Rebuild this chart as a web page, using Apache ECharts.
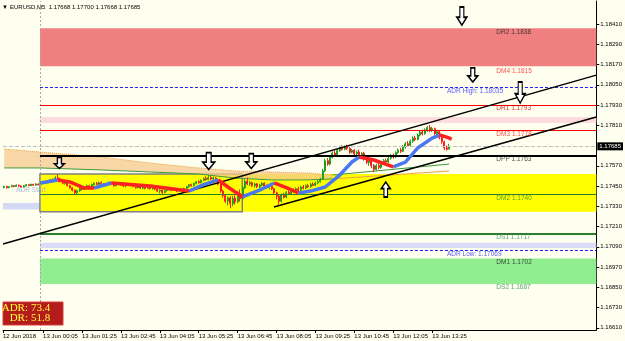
<!DOCTYPE html>
<html><head><meta charset="utf-8">
<script src="https://cdn.jsdelivr.net/npm/echarts@6/dist/echarts.min.js"></script>
<style>html,body{margin:0;padding:0;background:#FFFFF0;}#c{width:625px;height:341px;}</style>
</head><body><div id="c"></div>
<script>
const symbolName = 'EURUSD,M5';
const opens = [1.17441,1.17448,1.17440,1.17446,1.17452,1.17447,1.17455,1.17450,1.17444,1.17451,1.17458,1.17452,1.17460,1.17455,1.17462,
1.17458,1.17468,1.17475,1.17470,1.17480,1.17488,1.17483,1.17498,1.17490,1.17480,1.17466,1.17472,1.17452,1.17440,1.17425,
1.17410,1.17422,1.17436,1.17430,1.17444,1.17452,1.17446,1.17458,1.17466,1.17460,1.17470,1.17464,1.17455,1.17462,1.17470,
1.17460,1.17452,1.17460,1.17468,1.17458,1.17450,1.17456,1.17462,1.17454,1.17448,1.17440,1.17446,1.17438,1.17444,1.17436,
1.17442,1.17434,1.17440,1.17432,1.17420,1.17426,1.17412,1.17424,1.17432,1.17426,1.17434,1.17428,1.17420,1.17430,1.17424,
1.17436,1.17446,1.17458,1.17452,1.17466,1.17476,1.17470,1.17484,1.17494,1.17488,1.17500,1.17492,1.17498,1.17486,1.17462,
1.17420,1.17394,1.17360,1.17380,1.17345,1.17378,1.17356,1.17402,1.17375,1.17440,1.17478,1.17462,1.17470,1.17452,1.17462,
1.17446,1.17456,1.17466,1.17450,1.17440,1.17448,1.17434,1.17410,1.17390,1.17360,1.17398,1.17384,1.17412,1.17404,1.17424,
1.17416,1.17434,1.17426,1.17444,1.17438,1.17452,1.17446,1.17460,1.17454,1.17468,1.17476,1.17490,1.17540,1.17600,1.17580,
1.17620,1.17645,1.17630,1.17660,1.17680,1.17668,1.17682,1.17672,1.17650,1.17662,1.17640,1.17652,1.17630,1.17644,1.17610,
1.17590,1.17600,1.17570,1.17548,1.17572,1.17560,1.17585,1.17600,1.17592,1.17615,1.17630,1.17622,1.17648,1.17664,1.17656,
1.17682,1.17700,1.17690,1.17716,1.17734,1.17726,1.17752,1.17770,1.17760,1.17782,1.17796,1.17778,1.17790,1.17760,1.17772,
1.17738,1.17712,1.17676,1.17668];
const closes = [1.17448,1.17440,1.17446,1.17452,1.17447,1.17455,1.17450,1.17444,1.17451,1.17458,1.17452,1.17460,1.17455,1.17462,1.17458,
1.17468,1.17475,1.17470,1.17480,1.17488,1.17483,1.17498,1.17490,1.17480,1.17466,1.17472,1.17452,1.17440,1.17425,1.17410,
1.17422,1.17436,1.17430,1.17444,1.17452,1.17446,1.17458,1.17466,1.17460,1.17470,1.17464,1.17455,1.17462,1.17470,1.17460,
1.17452,1.17460,1.17468,1.17458,1.17450,1.17456,1.17462,1.17454,1.17448,1.17440,1.17446,1.17438,1.17444,1.17436,1.17442,
1.17434,1.17440,1.17432,1.17420,1.17426,1.17412,1.17424,1.17432,1.17426,1.17434,1.17428,1.17420,1.17430,1.17424,1.17436,
1.17446,1.17458,1.17452,1.17466,1.17476,1.17470,1.17484,1.17494,1.17488,1.17500,1.17492,1.17498,1.17486,1.17462,1.17420,
1.17394,1.17360,1.17380,1.17345,1.17378,1.17356,1.17402,1.17375,1.17440,1.17478,1.17462,1.17470,1.17452,1.17462,1.17446,
1.17456,1.17466,1.17450,1.17440,1.17448,1.17434,1.17410,1.17390,1.17360,1.17398,1.17384,1.17412,1.17404,1.17424,1.17416,
1.17434,1.17426,1.17444,1.17438,1.17452,1.17446,1.17460,1.17454,1.17468,1.17476,1.17490,1.17540,1.17600,1.17580,1.17620,
1.17645,1.17630,1.17660,1.17680,1.17668,1.17682,1.17672,1.17650,1.17662,1.17640,1.17652,1.17630,1.17644,1.17610,1.17590,
1.17600,1.17570,1.17548,1.17572,1.17560,1.17585,1.17600,1.17592,1.17615,1.17630,1.17622,1.17648,1.17664,1.17656,1.17682,
1.17700,1.17690,1.17716,1.17734,1.17726,1.17752,1.17770,1.17760,1.17782,1.17796,1.17778,1.17790,1.17760,1.17772,1.17738,
1.17712,1.17676,1.17668,1.17685];
const lows = [1.17436,1.17434,1.17437,1.17442,1.17443,1.17444,1.17446,1.17440,1.17441,1.17448,1.17449,1.17450,1.17451,1.17452,1.17453,
1.17455,1.17462,1.17464,1.17467,1.17474,1.17478,1.17480,1.17485,1.17474,1.17460,1.17458,1.17448,1.17434,1.17418,1.17397,
1.17400,1.17415,1.17424,1.17426,1.17438,1.17440,1.17442,1.17452,1.17455,1.17456,1.17458,1.17450,1.17448,1.17458,1.17454,
1.17446,1.17447,1.17455,1.17452,1.17444,1.17442,1.17450,1.17448,1.17442,1.17434,1.17436,1.17432,1.17430,1.17430,1.17432,
1.17428,1.17428,1.17426,1.17414,1.17406,1.17400,1.17406,1.17418,1.17420,1.17420,1.17422,1.17414,1.17416,1.17418,1.17420,
1.17430,1.17440,1.17446,1.17448,1.17460,1.17464,1.17466,1.17478,1.17482,1.17484,1.17486,1.17484,1.17480,1.17455,1.17410,
1.17380,1.17350,1.17335,1.17318,1.17330,1.17340,1.17348,1.17358,1.17368,1.17432,1.17455,1.17450,1.17444,1.17440,1.17438,
1.17436,1.17448,1.17442,1.17432,1.17430,1.17426,1.17400,1.17370,1.17340,1.17352,1.17376,1.17378,1.17396,1.17398,1.17408,
1.17410,1.17418,1.17420,1.17430,1.17432,1.17438,1.17440,1.17448,1.17450,1.17460,1.17470,1.17485,1.17532,1.17570,1.17572,
1.17612,1.17622,1.17626,1.17652,1.17660,1.17662,1.17664,1.17640,1.17644,1.17630,1.17632,1.17620,1.17618,1.17600,1.17580,
1.17570,1.17556,1.17532,1.17540,1.17548,1.17552,1.17576,1.17582,1.17586,1.17606,1.17612,1.17616,1.17640,1.17646,1.17650,
1.17672,1.17682,1.17684,1.17706,1.17716,1.17720,1.17744,1.17750,1.17754,1.17772,1.17768,1.17770,1.17750,1.17748,1.17726,
1.17700,1.17664,1.17660,1.17668];
const highs = [1.17452,1.17451,1.17449,1.17458,1.17456,1.17460,1.17458,1.17453,1.17455,1.17462,1.17461,1.17464,1.17463,1.17466,1.17465,
1.17472,1.17480,1.17482,1.17486,1.17492,1.17495,1.17508,1.17518,1.17500,1.17485,1.17478,1.17476,1.17458,1.17445,1.17430,
1.17428,1.17440,1.17442,1.17450,1.17458,1.17457,1.17464,1.17472,1.17474,1.17476,1.17478,1.17468,1.17466,1.17476,1.17474,
1.17465,1.17464,1.17473,1.17470,1.17462,1.17460,1.17468,1.17466,1.17458,1.17452,1.17450,1.17449,1.17448,1.17447,1.17446,
1.17445,1.17444,1.17443,1.17436,1.17430,1.17430,1.17428,1.17436,1.17438,1.17440,1.17438,1.17432,1.17434,1.17435,1.17440,
1.17450,1.17462,1.17464,1.17470,1.17480,1.17484,1.17490,1.17500,1.17508,1.17515,1.17510,1.17506,1.17503,1.17490,1.17466,
1.17428,1.17400,1.17388,1.17390,1.17392,1.17395,1.17420,1.17430,1.17452,1.17490,1.17500,1.17482,1.17476,1.17470,1.17468,
1.17464,1.17474,1.17472,1.17458,1.17454,1.17452,1.17438,1.17416,1.17398,1.17405,1.17410,1.17420,1.17424,1.17432,1.17436,
1.17442,1.17446,1.17452,1.17456,1.17460,1.17462,1.17468,1.17472,1.17476,1.17484,1.17498,1.17552,1.17612,1.17615,1.17632,
1.17655,1.17660,1.17672,1.17688,1.17692,1.17690,1.17695,1.17680,1.17670,1.17668,1.17660,1.17666,1.17650,1.17652,1.17620,
1.17612,1.17606,1.17580,1.17582,1.17590,1.17594,1.17610,1.17612,1.17622,1.17640,1.17642,1.17656,1.17672,1.17676,1.17692,
1.17710,1.17716,1.17726,1.17744,1.17748,1.17762,1.17780,1.17784,1.17792,1.17806,1.17812,1.17800,1.17796,1.17780,1.17778,
1.17744,1.17718,1.17690,1.17700];

// smoothed trend overlay (blue = rising, red = falling), key points [barIndex, price]
const trendUp = [[15,1.17468],[22,1.17486],null,[37,1.17438],[44,1.17468],null,[76,1.17420],[82,1.17458],[88,1.17486],null,
  [98,1.17385],[105,1.17426],[111,1.17468],null,[121,1.17409],[126,1.17420],[132,1.17444],[138,1.17515],[143,1.17592],[146,1.17622],null,
  [160,1.17563],[165,1.17592],[170,1.17675],[176,1.17734],[179,1.17752]];
const trendDown = [[22,1.17486],[27,1.17474],[33,1.17438],[37,1.17438],null,[44,1.17468],[60,1.17450],[76,1.17420],null,
  [88,1.17486],[92,1.17444],[98,1.17385],null,[111,1.17468],[116,1.17440],[121,1.17409],null,
  [146,1.17622],[152,1.17604],[160,1.17563],null,[179,1.17752],[182,1.17740],[184,1.17728]];

// envelope band key points
const bandIdx  = [0,15,40,60,80,95,110,125,135];
const bandLow  = [1.17557,1.17557,1.17545,1.17533,1.17521,1.17497,1.17486,1.17486,1.17492];
const bandHigh = [1.17669,1.17651,1.17622,1.17586,1.17557,1.17539,1.17533,1.17527,1.17515];
const tailGreen = [[135,1.17515],[183,1.17580]];
const tailOrange = [[135,1.17492],[183,1.17539]];

const xTickIdx = [-0.5,16,32,48,64,80,96,112,128,144,160,176];
const xTickLabels = ['12 Jun 2018','13 Jun 00:05','13 Jun 01:25','13 Jun 02:45','13 Jun 04:05','13 Jun 05:25','13 Jun 06:45','13 Jun 08:05','13 Jun 09:25','13 Jun 10:45','13 Jun 12:05','13 Jun 13:25'];
const yTicks = [1.16610,1.16730,1.16850,1.16970,1.17090,1.17210,1.17330,1.17450,1.17570,1.17810,1.17930,1.18050,1.18170,1.18290,1.18410];
const bidPrice = 1.17685;

const levelNames  = ['DR2','DM4','DR1','DM3','DPP','DM2','DS1','DM1','DS2'];
const levelValues = [1.1838,1.1815,1.1793,1.1778,1.1763,1.1740,1.1717,1.1702,1.1687];
const adrHigh = 1.18035, adrLow = 1.17069;
const adrValue = 73.4, drValue = 51.8;

const zoneSalmon = [1.18385,1.18160];
const zonePink = [1.17859,1.17823];
const zoneYellow = [1.17521,1.17298];
const zoneLavender = [1.17114,1.17083];
const zoneGreen = [1.1702,1.1687];
const zonePrevDay = [1.17349,1.17311];
const boxEndIdx = 97.9;

const trendLineA = [[-0.5,1.17106],[243.5,1.18107]];
const trendLineC = [[110.9,1.17326],[243.5,1.17859]];

const arrowIdx = [22.7,84.1,101.6,156.9,188.2,192.7,212.2];
const arrowPrice = [1.17586,1.17598,1.17598,1.17429,1.18457,1.18108,1.18004];
const arrowDir = ['down','down','down','up','down','down','down'];
</script>
<script>
const X_MIN = -0.5, X_MAX = 243.5, Y_MIN = 1.165967, Y_MAX = 1.185463;
const DAY = 14.7, LABEL_X = 202.4, ADR_LABEL_X = 182.1;
const FONT = '"Liberation Sans",Arial,sans-serif';
const FS = 6;
const arrowSizes = [[10,11],[12,17],[11,15],[9,15],[10,18],[10,14],[10,21]];
const DOWN = 'path://M3,0 L7,0 L7,9 L10,9 L5,16 L0,9 L3,9 Z';
const UP = 'path://M5,0 L10,7 L7,7 L7,16 L3,16 L3,7 L0,7 Z';

const candleData = opens.map((o,i)=>[i,o,closes[i],lows[i],highs[i]]);
const toSeg = arr => arr.map(p => p === null ? [null,null] : p);

function hLine(v, color, width, type){
  return [{coord:[DAY, v], lineStyle:{color, width, type: type||'solid'}},{coord:[X_MAX, v]}];
}
function zone(z, color, x0){
  return [{coord:[x0===undefined?DAY:x0, z[0]], itemStyle:{color}},{coord:[X_MAX, z[1]]}];
}
const levelColors = ['#202020','#FF2020','#C00000','#FF2020','#202020','#2E8B2E','#2E8B57','#202020','#2E8B57'];
const labelData = levelNames.map((n,i)=>({value:[LABEL_X, levelValues[i]], label:{formatter: n+' '+levelValues[i].toFixed(4), color: levelColors[i]}}));
labelData.push({value:[ADR_LABEL_X, adrHigh], label:{formatter:'ADR High: '+adrHigh.toFixed(5), color:'#3333FF'}});
labelData.push({value:[ADR_LABEL_X, adrLow], label:{formatter:'ADR Low: '+adrLow.toFixed(5), color:'#3333FF'}});

const last = opens.length-1;
const header = symbolName+'  '+opens[last].toFixed(5)+' '+highs[last].toFixed(5)+' '+lows[last].toFixed(5)+' '+closes[last].toFixed(5);

const bandData = bandIdx.map((x,i)=>[x,bandLow[i],bandHigh[i]]);

const chart = echarts.init(document.getElementById('c'), null, {renderer:'canvas'});
chart.setOption({
  animation:false,
  backgroundColor:'#FFFFF0',
  grid:{left:0,right:25,top:1,bottom:11},
  xAxis:{type:'value',min:X_MIN,max:X_MAX,splitLine:{show:false},
    axisLine:{show:true,onZero:false,lineStyle:{color:'#000',width:1}},
    axisTick:{show:true,length:3,customValues:xTickIdx,lineStyle:{color:'#000'}},
    axisLabel:{customValues:xTickIdx,align:'left',margin:3,fontSize:FS,fontFamily:FONT,color:'#000',hideOverlap:false,
      formatter:v=>{const k=xTickIdx.indexOf(v);return k>=0?xTickLabels[k]:'';}}},
  yAxis:{type:'value',position:'right',min:Y_MIN,max:Y_MAX,scale:true,splitLine:{show:false},
    axisLine:{show:true,onZero:false,lineStyle:{color:'#000',width:1}},
    axisTick:{show:true,length:3,customValues:yTicks,lineStyle:{color:'#000'}},
    axisLabel:{customValues:yTicks,margin:4,fontSize:FS,fontFamily:FONT,color:'#000',formatter:v=>v.toFixed(5)}},
  graphic:[
    {type:'text',x:2,y:7,style:{text:'▼',font:'6px '+FONT,fill:'#000',verticalAlign:'middle'}},
    {type:'text',x:10,y:7,style:{text:header,font:FS+'px '+FONT,fill:'#000',verticalAlign:'middle'}},
    {type:'rect',shape:{x:3,y:302,width:60,height:23},style:{fill:'#B41C1C',stroke:'#D83A3A',lineWidth:1},z:100},
    {type:'text',x:28,y:308.5,style:{text:'ADR:',font:'11px "Liberation Serif",serif',fill:'#FFFF30',align:'right',verticalAlign:'middle'},z:101},
    {type:'text',x:31,y:308.5,style:{text:adrValue.toFixed(1),font:'11px "Liberation Serif",serif',fill:'#FFFF30',align:'left',verticalAlign:'middle'},z:101},
    {type:'text',x:28,y:318.5,style:{text:'DR:',font:'11px "Liberation Serif",serif',fill:'#FFFF30',align:'right',verticalAlign:'middle'},z:101},
    {type:'text',x:31,y:318.5,style:{text:drValue.toFixed(1),font:'11px "Liberation Serif",serif',fill:'#FFFF30',align:'left',verticalAlign:'middle'},z:101}
  ],
  series:[
    {name:'zones',type:'line',data:[],z:0,silent:true,
      markArea:{silent:true,data:[
        zone(zoneSalmon,'#F08080'), zone(zonePink,'#FCDCDC'), zone(zoneYellow,'#FFFF00'),
        zone(zoneLavender,'#DCDCF6'), zone(zoneGreen,'#90EE90'),
        [{coord:[X_MIN,zonePrevDay[0]],itemStyle:{color:'#D4DAF6'}},{coord:[DAY,zonePrevDay[1]]}]
      ]}},
    {name:'band',type:'custom',z:2,silent:true,data:bandData,encode:{x:0,y:[1,2]},clip:true,
      renderItem:(params,api)=>{
        if (params.dataIndex !== 0) return null;
        const lowPts = bandData.map(d=>api.coord([d[0],d[1]]));
        const highPts = bandData.map(d=>api.coord([d[0],d[2]])).reverse();
        return {type:'polygon',z2:10,shape:{points:lowPts.concat(highPts)},style:{fill:'#F5C88C',opacity:0.75,stroke:null}};
      }},
    {name:'bandLow',type:'line',z:2,symbol:'none',silent:true,
      data:bandData.map(d=>[d[0],d[1]]),lineStyle:{color:'#3C9A3C',width:1}},
    {name:'bandHigh',type:'line',z:2,symbol:'none',silent:true,
      data:bandData.map(d=>[d[0],d[2]]),lineStyle:{color:'#F0A040',width:1,type:'dotted'}},
    {name:'tailG',type:'line',z:2,symbol:'none',silent:true,data:tailGreen,lineStyle:{color:'#3C9A3C',width:1}},
    {name:'tailO',type:'line',z:2,symbol:'none',silent:true,data:tailOrange,lineStyle:{color:'#F0A040',width:1}},
    {name:'box',type:'line',data:[],z:2,silent:true,
      markArea:{silent:true,data:[[{coord:[DAY,zoneYellow[0]],itemStyle:{color:'rgba(0,0,0,0)',borderColor:'#808080',borderWidth:1.5}},{coord:[boxEndIdx,zoneYellow[1]]}]]}},
    {name:'levels',type:'line',data:[],z:2,silent:true,
      markLine:{silent:true,symbol:['none','none'],label:{show:false},data:[
        [{coord:[DAY,Y_MIN],lineStyle:{color:'#A8A8A8',width:1,type:[2,2]}},{coord:[DAY,Y_MAX]}],
        hLine(levelValues[2],'#FF0000',1), hLine(levelValues[3],'#FF0000',1),
        hLine(levelValues[5],'#2E7D2E',1.2), hLine(levelValues[6],'#2E7D2E',2),
        hLine(adrHigh,'#2020FF',1,[3,2]), hLine(adrLow,'#2020FF',1,[3,2]),
        [{coord:[X_MIN,bidPrice],lineStyle:{color:'#C0C0C0',width:1},
          label:{show:true,position:'end',distance:1,formatter:bidPrice.toFixed(5),backgroundColor:'#000',color:'#fff',
            fontSize:FS,fontFamily:FONT,padding:[1,2,1,2]}},{coord:[X_MAX,bidPrice]}]
      ]}},
    {name:'candles',type:'candlestick',z:3,silent:true,data:candleData,encode:{x:0,y:[1,2,3,4]},barWidth:1.5,
      itemStyle:{color:'#1FA01F',color0:'#FF1A1A',borderColor:'#1FA01F',borderColor0:'#FF1A1A',borderWidth:1}},
    {name:'lines',type:'line',data:[],z:4,silent:true,
      markLine:{silent:true,symbol:['none','none'],label:{show:false},data:[
        hLine(levelValues[4],'#000',2),
        [{coord:trendLineA[0],lineStyle:{color:'#000',width:1.5,type:'solid'}},{coord:trendLineA[1]}],
        [{coord:trendLineC[0],lineStyle:{color:'#000',width:1.5,type:'solid'}},{coord:trendLineC[1]}]
      ]}},
    {name:'up',type:'line',z:5,symbol:'none',silent:true,data:toSeg(trendUp),lineStyle:{color:'#4A78F0',width:3.5}},
    {name:'down',type:'line',z:5,symbol:'none',silent:true,data:toSeg(trendDown),lineStyle:{color:'#FF2020',width:3.5}},
    {name:'arrows',type:'scatter',z:6,silent:true,
      data:arrowIdx.map((x,i)=>({value:[x,arrowPrice[i]],symbol:arrowDir[i]==='up'?UP:DOWN,symbolSize:arrowSizes[i]})),
      itemStyle:{color:'#FFFFFF',borderColor:'#000',borderWidth:1.5,opacity:1}},
    {name:'labels',type:'scatter',z:7,silent:true,symbolSize:0,
      data:labelData.concat([{value:[17,1.17426],label:{formatter:'ADR Start',color:'#8FA8D0',align:'right',verticalAlign:'middle',position:[0,0]}}]),
      label:{show:true,position:[0,0],align:'left',verticalAlign:'top',fontSize:FS+0.5,fontFamily:FONT}}
  ]
});
</script>
</body></html>
